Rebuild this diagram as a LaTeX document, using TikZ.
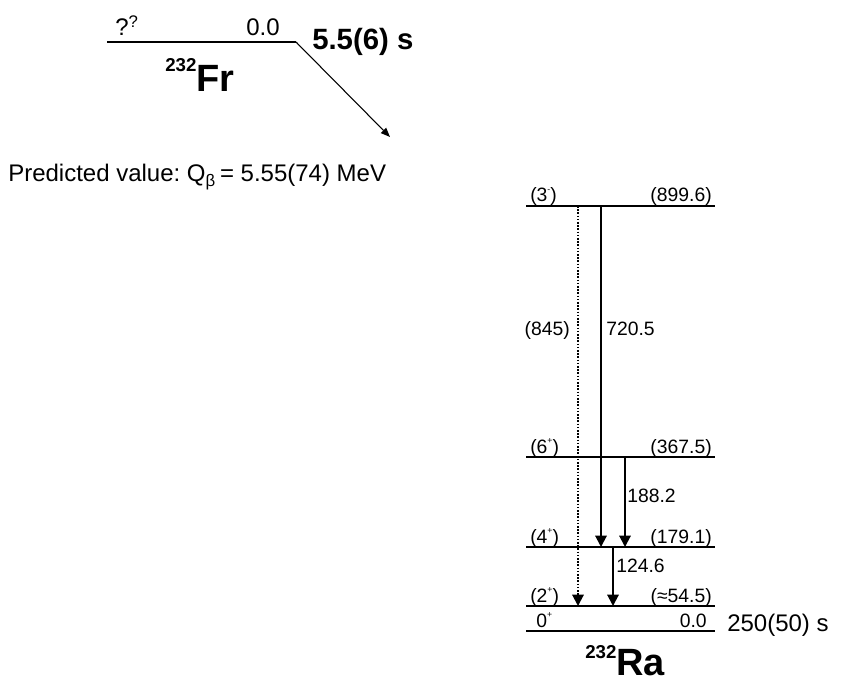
\documentclass[tikz,border=0pt]{standalone}
\usepackage{fontspec}
\setmainfont{Liberation Sans}
\usetikzlibrary{arrows.meta}

\newcommand{\upsign}[1]{\raisebox{0.95ex}{\fontsize{6.5}{7}\selectfont #1}}
\frenchspacing

\begin{document}
\begin{tikzpicture}[x=0.75pt, y=-0.75pt,
  lvl/.style={line width=1.5pt},
  gam/.style={line width=1.5pt, -{Triangle[length=8.5pt, width=8.5pt]}},
  gamdot/.style={gam, dash pattern=on 1.2pt off 1.2pt},
  decay/.style={line width=0.8pt, -{Triangle[length=7pt, width=5.5pt]}},
  lbl/.style={font=\fontsize{14.5}{16}\selectfont, inner sep=0pt},
  biglbl/.style={font=\fontsize{18}{20}\selectfont, inner sep=0pt},
  nuc/.style={font=\fontsize{28.5}{30}\selectfont\bfseries, inner sep=0pt, text depth=0pt},
]
\useasboundingbox (0,0) rectangle (841,680);

% Parent level
\coordinate (frL) at (107,42);
\coordinate (frR) at (296,42);
\coordinate (frEnd) at (390,137);
\draw[lvl] (frL) -- (frR);
\draw[decay] (frR) -- (frEnd);
\node[biglbl, anchor=base west] (frspin) at (115,36) {?\textsuperscript{?}};
\node[biglbl, anchor=base east] (frE) at (280,36) {0.0};
\node[font=\fontsize{22}{24}\selectfont\bfseries, inner sep=0pt, anchor=base west] (frhalf) at (312,50) {5.5(6) s};
\node[nuc, anchor=base west] (fr) at (165,92) {\raisebox{15pt}{\fontsize{14}{16}\selectfont 232}Fr};
\node[biglbl, anchor=base west] (qval) at (8,182) {Predicted value: Q\textsubscript{β}\,= 5.55(74) MeV};

% Daughter levels
\coordinate (r899) at (526,206);
\coordinate (r367) at (526,457);
\coordinate (r179) at (526,547);
\coordinate (r54) at (526,606);
\coordinate (r0) at (526,631);
\draw[lvl] (r899) -- ++(189,0);
\draw[lvl] (r367) -- ++(189,0);
\draw[lvl] (r179) -- ++(189,0);
\draw[lvl] (r54) -- ++(189,0);
\draw[lvl] (r0) -- ++(189,0);

% Level labels
\node[lbl, anchor=base west] (s899) at (530,202) {(3\upsign{-})};
\node[lbl, anchor=base east] (e899) at (712,202) {(899.6)};
\node[lbl, anchor=base west] (s367) at (530,453) {(6\upsign{+})};
\node[lbl, anchor=base east] (e367) at (712,453) {(367.5)};
\node[lbl, anchor=base west] (s179) at (530,543) {(4\upsign{+})};
\node[lbl, anchor=base east] (e179) at (712,543) {(179.1)};
\node[lbl, anchor=base west] (s54) at (530,602) {(2\upsign{+})};
\node[lbl, anchor=base east] (e54) at (712,602) {(≈54.5)};
\node[lbl, anchor=base west] (s0) at (536,627) {0\upsign{+}};
\node[lbl, anchor=base east] (e0) at (707,627) {0.0};
\node[biglbl, anchor=base west] (rahalf) at (727,631) {250(50) s};
\node[nuc, anchor=base west] (ra) at (585,675) {\raisebox{12.5pt}{\fontsize{14}{16}\selectfont 232}Ra};

% Gamma transitions
\coordinate (t845) at (578,206);
\coordinate (t720) at (601,206);
\coordinate (t188) at (625,457);
\coordinate (t124) at (613,547);
\draw[gamdot] (t845) -- (t845 |- r54);
\draw[gam] (t720) -- (t720 |- r179);
\draw[gam] (t188) -- (t188 |- r179);
\draw[gam] (t124) -- (t124 |- r54);
\node[lbl, anchor=base east] (l845) at (570,335) {(845)};
\node[lbl, anchor=base west] (l720) at (606,335) {720.5};
\node[lbl, anchor=base west] (l188) at (627,502) {188.2};
\node[lbl, anchor=base west] (l124) at (616,572) {124.6};

\end{tikzpicture}
\end{document}
